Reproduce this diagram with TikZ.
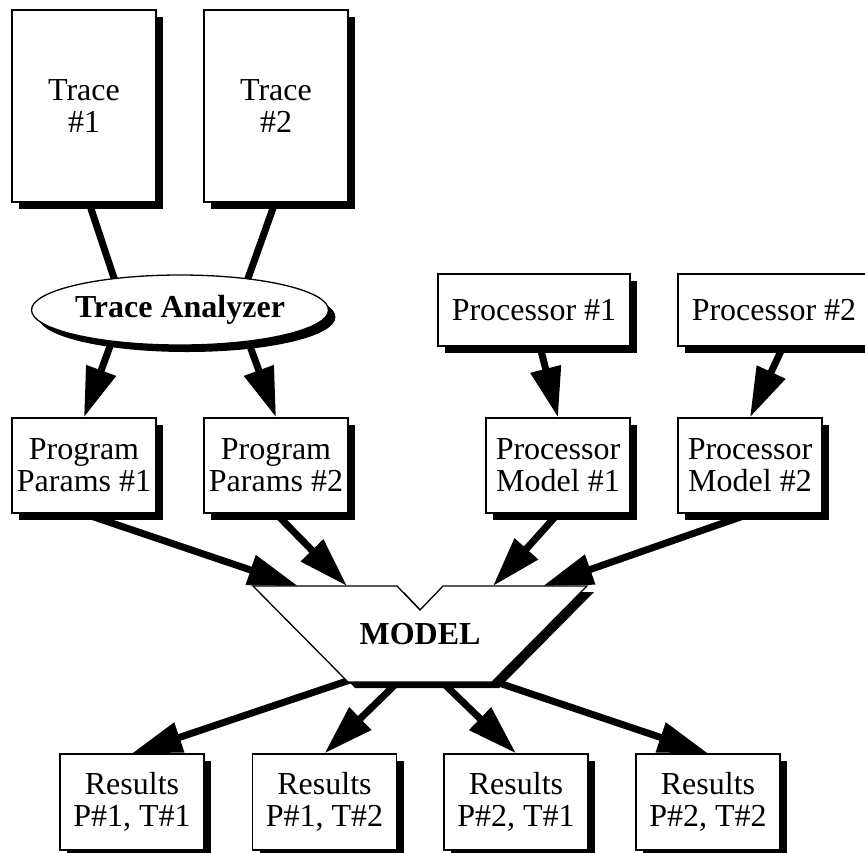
\documentclass[tikz,border=0pt]{standalone}
\usepackage{fontspec}
\setmainfont{Liberation Serif}
\usetikzlibrary{shapes.geometric,shadows,arrows.meta,calc,backgrounds}
\begin{document}
\begin{tikzpicture}[x=1pt,y=-1pt,
  every node/.style={font=\fontsize{32}{32}\selectfont, align=center, inner sep=0pt},
  shade7/.style={drop shadow={shadow xshift=7pt, shadow yshift=-7pt, fill=black, opacity=1}},
  box/.style={draw, line width=1.3pt, fill=white, shade7},
  tracebox/.style={box, minimum width=144pt, minimum height=192pt},
  procbox/.style={box, minimum width=192pt, minimum height=72pt},
  midbox/.style={box, minimum width=144pt, minimum height=95pt},
  resbox/.style={box, minimum width=144pt, minimum height=96pt},
  oval/.style={ellipse, draw, line width=1.3pt, fill=white, shade7,
    minimum width=287pt, minimum height=70pt, font=\fontsize{32}{32}\selectfont\bfseries},
  link/.style={line width=7pt},
  flow/.style={line width=7pt, -{Triangle[length=50pt,width=30pt]}}
]
\useasboundingbox (0,0) rectangle (865,852);
\clip (0,0) rectangle (865,852);

% sources
\node[tracebox] (t1) at (84,106) {Trace\\\#1};
\node[tracebox] (t2) at (276,106) {Trace\\\#2};
\node[oval] (ta) at (180,310) {Trace Analyzer};
\node[procbox] (p1) at (534,310) {Processor \#1};
\node[procbox] (p2) at (774,310) {Processor \#2};

% intermediate parameters
\node[midbox] (pp1) at (84,465.5) {Program\\Params \#1};
\node[midbox] (pp2) at (276,465.5) {Program\\Params \#2};
\node[midbox] (pm1) at (558,465.5) {Processor\\Model \#1};
\node[midbox] (pm2) at (750,465.5) {Processor\\Model \#2};

% the model block, with its shadow
\fill[black, shift={(7,6)}] (253,586) -- (397,586) -- (420,610) -- (443,586)
  -- (587,586) -- (492,682) -- (348,682) -- cycle;
\draw[line width=1.3pt, fill=white] (253,586) -- (397,586) -- (420,610) -- (443,586)
  -- (587,586) -- (492,682) -- (348,682) -- cycle;
\node[font=\fontsize{32}{32}\selectfont\bfseries] (model) at (420,634) {MODEL};
\coordinate (in1) at (298,586);
\coordinate (in2) at (347,586);
\coordinate (in3) at (493,586);
\coordinate (in4) at (543,586);
\coordinate (out1) at (350,680);
\coordinate (out2) at (402,678);
\coordinate (out3) at (438,678);
\coordinate (out4) at (490,680);

% results
\node[resbox] (r1) at (132,802) {Results\\P\#1, T\#1};
\node[resbox] (r2) at (324.5,802) {Results\\P\#1, T\#2};
\node[resbox] (r3) at (516,802) {Results\\P\#2, T\#1};
\node[resbox] (r4) at (708,802) {Results\\P\#2, T\#2};

\begin{pgfonlayer}{background}
  \draw[link] ([xshift=5pt]t1.south) -- ($(ta.center)+(-64,-26)$);
  \draw[link] ([xshift=-1pt]t2.south) -- ($(ta.center)+(66,-26)$);
  \draw[flow] ($(ta.center)+(-67,28)$) -- (pp1.north);
  \draw[flow] ($(ta.center)+(67,28)$) -- (pp2.north);
  \draw[flow] ([xshift=6pt]p1.south) -- (pm1.north);
  \draw[flow] ([xshift=9pt]p2.south) -- (pm2.north);
  \draw[flow] (pp1.south) -- (in1);
  \draw[flow] (pp2.south) -- (in2);
  \draw[flow] (pm1.south) -- (in3);
  \draw[flow] (pm2.south) -- (in4);
  \draw[flow] (out1) -- (r1.north);
  \draw[flow] (out2) -- (r2.north);
  \draw[flow] (out3) -- (r3.north);
  \draw[flow] (out4) -- (r4.north);
\end{pgfonlayer}
\end{tikzpicture}
\end{document}
